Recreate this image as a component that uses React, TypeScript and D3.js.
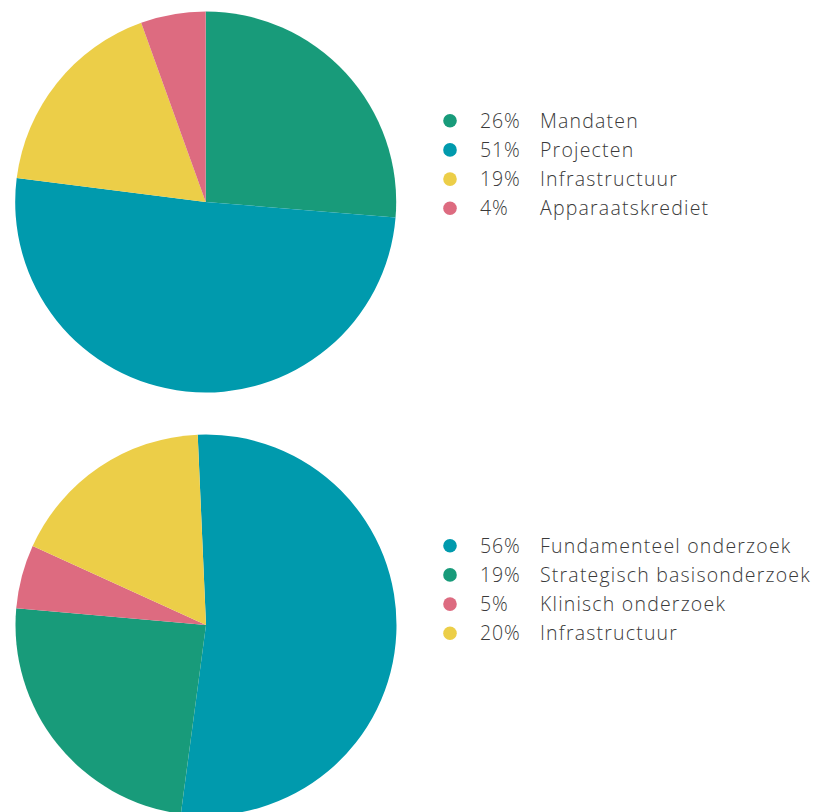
import React from "react";
import * as d3 from "d3";

// Top pie (values as drawn) and legend labels
const topCategories = ["Mandaten", "Projecten", "Infrastructuur", "Apparaatskrediet"];
const topValues = [26.3, 50.7, 17.5, 5.5];
const topLabels = ["26%", "51%", "19%", "4%"];
const topColors = ["#189b7a", "#009aad", "#ecce48", "#dd6b80"];

// Bottom pie
const bottomCategories = ["Fundamenteel onderzoek", "Strategisch basisonderzoek", "Klinisch onderzoek", "Infrastructuur"];
const bottomValues = [52.8, 24.3, 5.4, 17.5];
const bottomLabels = ["56%", "19%", "5%", "20%"];
const bottomColors = ["#009aad", "#189b7a", "#dd6b80", "#ecce48"];

const W = 824;
const H = 812;
const R = 190.5;

function Pie({ cx, cy, values, colors, start }: { cx: number; cy: number; values: number[]; colors: string[]; start: number }) {
  const s = (start * Math.PI) / 180;
  const arcs = d3.pie<number>().sort(null).value((d) => d).startAngle(s).endAngle(s + 2 * Math.PI)(values);
  const arc = d3.arc<d3.PieArcDatum<number>>().innerRadius(0).outerRadius(R);
  return (
    <g transform={`translate(${cx},${cy})`}>
      {arcs.map((a, i) => (
        <path key={i} d={arc(a) || ""} fill={colors[i]} />
      ))}
    </g>
  );
}

const font = "'Open Sans', Lato, sans-serif";

function Legend({ x, y, cats, labels, colors }: { x: number; y: number; cats: string[]; labels: string[]; colors: string[] }) {
  const yScale = d3.scaleLinear().domain([0, 1]).range([y, y + 29.2]);
  return (
    <g>
      {cats.map((c, i) => (
        <g key={i} transform={`translate(0,${yScale(i)})`}>
          <circle cx={x} cy={0} r={6.8} fill={colors[i]} />
          <text x={x + 30} y={7} fontSize={19.5} fill="#3a3a3a" fontFamily={font} fontWeight={300} letterSpacing={0.9}>
            {labels[i]}
          </text>
          <text x={x + 90} y={7} fontSize={19.5} fill="#3a3a3a" fontFamily={font} fontWeight={300} letterSpacing={1.2}>
            {c}
          </text>
        </g>
      ))}
    </g>
  );
}

export default function App() {
  return (
    <svg width={W} height={H} style={{ position: "absolute", left: 0, top: 0, background: "#fff" }}>
      <Pie cx={205.7} cy={202} values={topValues} colors={topColors} start={0} />
      <Legend x={450} y={120.7} cats={topCategories} labels={topLabels} colors={topColors} />
      <Pie cx={206} cy={625} values={bottomValues} colors={bottomColors} start={-2.5} />
      <Legend x={450} y={545.7} cats={bottomCategories} labels={bottomLabels} colors={bottomColors} />
    </svg>
  );
}
